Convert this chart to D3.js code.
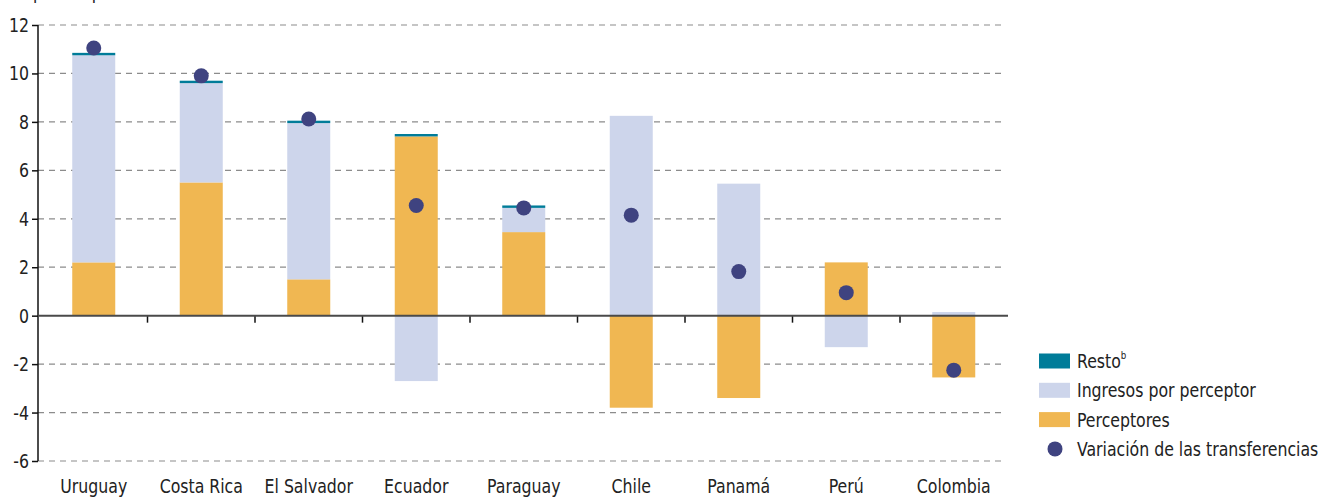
<!DOCTYPE html>
<html><head><meta charset="utf-8">
<script src="https://cdn.jsdelivr.net/npm/d3@7"></script>
<style>
body{margin:0;background:#fff;}
svg{display:block;font-family:"DejaVu Sans Condensed","DejaVu Sans",sans-serif;}
</style></head><body>
<svg id="c" width="1325" height="497"></svg>
<script>
const categories = ["Uruguay","Costa Rica","El Salvador","Ecuador","Paraguay","Chile","Panamá","Perú","Colombia"];
const perceptores = [2.2, 5.5, 1.5, 7.4, 3.45, -3.8, -3.4, 2.2, -2.55];
const ingresos    = [8.55, 4.1, 6.45, -2.7, 1.0, 8.25, 5.45, -1.3, 0.15];
const resto       = [0.1, 0.1, 0.1, 0.1, 0.1, 0, 0, 0, 0];
const transferencias = [11.05, 9.9, 8.12, 4.55, 4.45, 4.15, 1.82, 0.95, -2.25];
const yTicks = [-6,-4,-2,0,2,4,6,8,10,12];
const yTickLabels = ["-6","-4","-2","0","2","4","6","8","10","12"];
const titleText = "En puntos porcentuales";

const colors = {perceptores:"#f0b752", ingresos:"#cdd5eb", resto:"#007c99", dot:"#3f4380"};
const FS = 20, SX = 0.875;

const svg = d3.select("#c");
const x0 = 38, x1 = 1008, yTop = 25, yBot = 461;
const x = d3.scaleBand().domain(categories).range([40, 1007.5]).paddingInner(0.6).paddingOuter(0.3);
const y = d3.scaleLinear().domain([-6, 12]).range([yBot, yTop]);

function label(g, tx, ty, str, anchor) {
  return g.append("text")
    .attr("transform", `translate(${tx},${ty}) scale(${SX},1)`)
    .attr("text-anchor", anchor || "start")
    .attr("font-size", FS).attr("fill", "#222").text(str);
}

// title (clipped at top, as in the reference)
label(svg, 8, -1, titleText);

// gridlines
svg.append("g").selectAll("line").data(yTicks.filter(d => d !== 0)).join("line")
  .attr("x1", x0).attr("x2", 1005).attr("y1", d => y(d)).attr("y2", d => y(d))
  .attr("stroke", "#8c8c8c").attr("stroke-width", 1.2).attr("stroke-dasharray", "6,5");

// stacked bars
const rows = categories.map((c, i) => ({cat: c, perceptores: perceptores[i], ingresos: ingresos[i], resto: resto[i]}));
const keys = ["perceptores", "ingresos", "resto"];
const series = d3.stack().keys(keys).offset(d3.stackOffsetDiverging)(rows);
svg.append("g").selectAll("g").data(series).join("g")
  .attr("fill", d => colors[d.key])
  .selectAll("rect").data(d => d.filter(p => p[1] !== p[0])).join("rect")
  .attr("x", d => x(d.data.cat)).attr("width", x.bandwidth())
  .attr("y", d => y(Math.max(d[0], d[1])))
  .attr("height", d => Math.abs(y(d[0]) - y(d[1])));

// y axis
const yAxis = svg.append("g").attr("transform", `translate(${x0},0)`)
  .call(d3.axisLeft(y).tickValues(yTicks).tickSize(6).tickFormat(""));
yAxis.select(".domain").attr("stroke", "#111").attr("stroke-width", 1.5).attr("d", `M0,${yTop}V${yBot}`);
yAxis.selectAll(".tick line").attr("stroke", "#111").attr("stroke-width", 1.5);
yAxis.selectAll(".tick text").remove();
const yl = svg.append("g");
yTicks.forEach((v, i) => label(yl, 29, y(v) + 7, yTickLabels[i], "end"));

// x axis at zero
const step = x.step();
const boundaries = categories.slice(1).map(c => x(c) - x.paddingInner() * step / 2);
svg.append("g").selectAll("line").data(boundaries).join("line")
  .attr("x1", d => d).attr("x2", d => d).attr("y1", y(0)).attr("y2", y(0) + 7)
  .attr("stroke", "#111").attr("stroke-width", 1.5);
svg.append("line").attr("x1", x0).attr("x2", x1).attr("y1", y(0)).attr("y2", y(0))
  .attr("stroke", "#4a4a4a").attr("stroke-width", 2);

// category labels
const xl = svg.append("g");
categories.forEach(c => label(xl, x(c) + x.bandwidth() / 2, 493, c, "middle"));

// dots
svg.append("g").selectAll("circle").data(transferencias).join("circle")
  .attr("cx", (d, i) => x(categories[i]) + x.bandwidth() / 2).attr("cy", d => y(d))
  .attr("r", 7.5).attr("fill", colors.dot);

// legend
const lg = svg.append("g").attr("transform", "translate(1039,0)");
const legendItems = [
  {label: "Resto", sup: "b", type: "rect", color: colors.resto},
  {label: "Ingresos por perceptor", type: "rect", color: colors.ingresos},
  {label: "Perceptores", type: "rect", color: colors.perceptores},
  {label: "Variación de las transferencias", type: "dot", color: colors.dot}
];
legendItems.forEach((it, i) => {
  const cy = 361 + i * 29.3;
  if (it.type === "rect") {
    lg.append("rect").attr("x", 0).attr("y", cy - 7.5).attr("width", 31).attr("height", 15).attr("fill", it.color);
  } else {
    lg.append("circle").attr("cx", 16).attr("cy", cy).attr("r", 7.5).attr("fill", it.color);
  }
  const t = label(lg, 38, cy + 7, it.label);
  if (it.sup) t.append("tspan").attr("font-size", 11).attr("dy", -9).text(it.sup);
});
</script>
</body></html>
